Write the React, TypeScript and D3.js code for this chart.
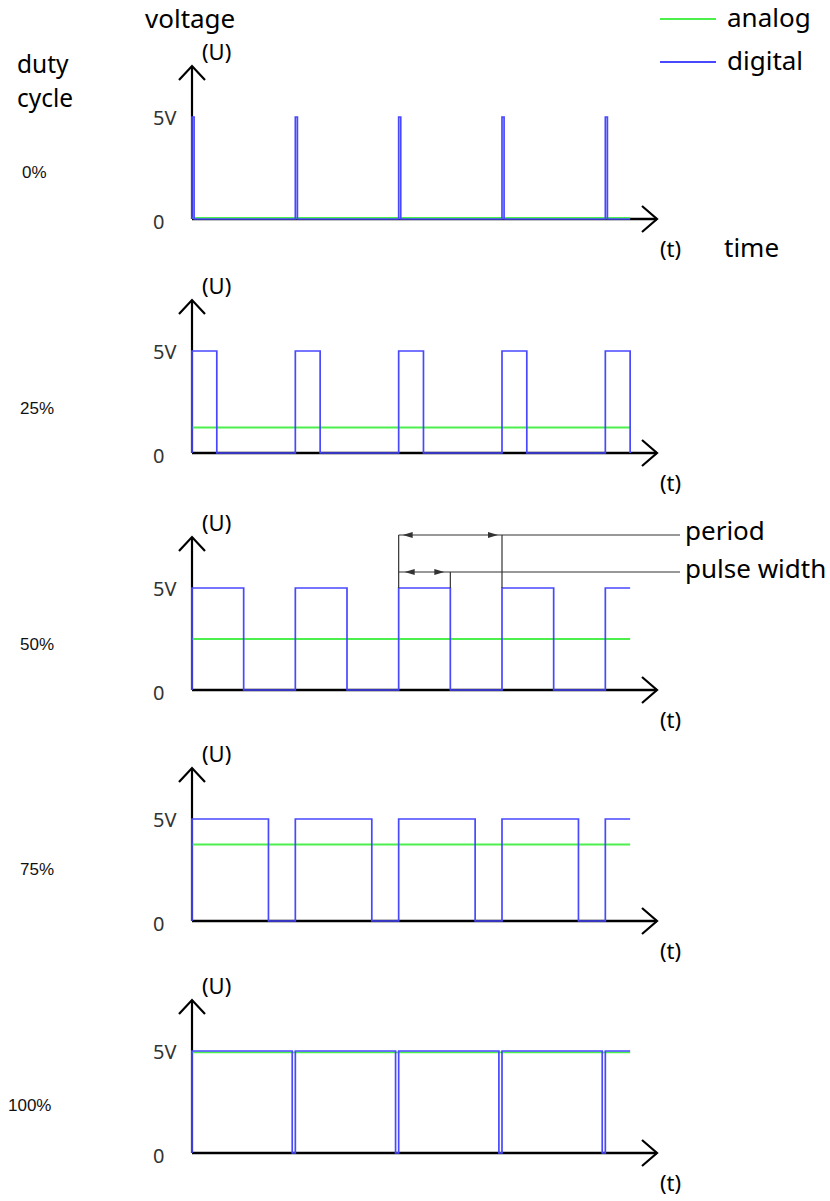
import React from "react";
import * as d3 from "d3";

// ---------- data ----------
const dutyLabels = ["0%", "25%", "50%", "75%", "100%"];
const pulseWidths = [0.02, 0.24, 0.5, 0.74, 0.97]; // fraction of one period
const analogLevels = [0.05, 1.25, 2.5, 3.75, 4.93]; // volts
const risingEdges = [0, 1, 2, 3, 4]; // in periods
const traceEnd = 4.24; // periods
const axisEnd = 4.5; // periods
const axisTop = 7.5; // volts
const highLevel = 5; // volts
const tickValues = [5, 0];
const tickLabels = ["5V", "0"];
const legendItems = ["analog", "digital"];
const annotationLabels = ["period", "pulse width"];

// ---------- layout ----------
const W = 830;
const H = 1201;
const baselines = [219, 453, 690, 921, 1153];
const pctOffsets = [-47, -45, -46, -52, -48];
const pctX = [22, 20, 20, 20, 8];
const COLORS = { analog: "#4cf04c", digital: "#4848ff", axis: "#000", note: "#333" };
const FONT = "'Noto Sans', 'DejaVu Sans', sans-serif";

const xScale = d3.scaleLinear().domain([0, axisEnd]).range([192, 657]);

function digitalPoints(w: number): [number, number][] {
  const pts: [number, number][] = [];
  risingEdges.forEach((r) => {
    pts.push([r, 0], [r, highLevel]);
    const f = r + w;
    if (f > traceEnd) {
      pts.push([traceEnd, highLevel]);
    } else {
      pts.push([f, highLevel], [f, 0]);
    }
  });
  const last = pts[pts.length - 1];
  if (last[0] < traceEnd) pts.push([traceEnd, 0]);
  return pts;
}

function Panel({ i }: { i: number }) {
  const base = baselines[i];
  const y = d3.scaleLinear().domain([0, axisTop]).range([base, base - 153]);
  const line = d3
    .line<[number, number]>()
    .x((d) => xScale(d[0]))
    .y((d) => y(d[1]));
  const x0 = xScale(0);
  const topY = y(axisTop);
  const xEnd = xScale(axisEnd);
  const digital = line(digitalPoints(pulseWidths[i])) || "";
  const analog = line([
    [0, analogLevels[i]],
    [traceEnd, analogLevels[i]],
  ]) || "";

  return (
    <g>
      {/* axes */}
      <line x1={x0} y1={base} x2={x0} y2={topY} stroke={COLORS.axis} strokeWidth={2.2} />
      <polyline
        points={`${x0 - 13},${topY + 14} ${x0},${topY} ${x0 + 13},${topY + 14}`}
        fill="none"
        stroke={COLORS.axis}
        strokeWidth={2.2}
      />
      <line x1={x0} y1={base} x2={xEnd} y2={base} stroke={COLORS.axis} strokeWidth={2.4} />
      <polyline
        points={`${xEnd - 15},${base - 13} ${xEnd},${base} ${xEnd - 15},${base + 13}`}
        fill="none"
        stroke={COLORS.axis}
        strokeWidth={2.2}
      />
      {/* tick labels */}
      {tickValues.map((v, k) => (
        <text
          key={k}
          x={153}
          y={y(v) + (v === 0 ? 2 : 0)}
          dominantBaseline="central"
          fontSize={20}
          fill="#333"
          fontFamily={FONT}
        >
          {tickLabels[k]}
        </text>
      ))}
      <text x={202} y={base - 168} dominantBaseline="central" fontSize={22} fill="#000" fontFamily={FONT}>
        (U)
      </text>
      <text x={660} y={base + 29} dominantBaseline="central" fontSize={22} fill="#000" fontFamily={FONT}>
        (t)
      </text>
      <text
        x={pctX[i]}
        y={base + pctOffsets[i]}
        dominantBaseline="central"
        fontSize={17}
        fill="#111"
        fontFamily="'Liberation Sans', Arial, sans-serif"
      >
        {dutyLabels[i]}
      </text>
      {/* traces */}
      <path d={analog} fill="none" stroke={COLORS.analog} strokeWidth={1.8} />
      <path d={digital} fill="none" stroke={COLORS.digital} strokeWidth={1.7} strokeLinejoin="miter" />
    </g>
  );
}

function Annotation() {
  const base = baselines[2];
  const y = d3.scaleLinear().domain([0, axisTop]).range([base, base - 153]);
  const xa = xScale(2);
  const xp = xScale(3);
  const xw = xScale(2 + pulseWidths[2]);
  const yP = base - 155;
  const yW = base - 118;
  const yTop = y(highLevel);
  const right = 680;
  const arrowL = (tx: number, ty: number) => `${tx},${ty} ${tx + 10},${ty - 3} ${tx + 10},${ty + 3}`;
  const arrowR = (tx: number, ty: number) => `${tx},${ty} ${tx - 10},${ty - 3} ${tx - 10},${ty + 3}`;
  return (
    <g stroke={COLORS.note} strokeWidth={1.2} fill="none">
      <line x1={xa} y1={yP} x2={xa} y2={yTop} />
      <line x1={xp} y1={yP} x2={xp} y2={yTop} />
      <line x1={xw} y1={yW} x2={xw} y2={yTop} />
      <line x1={xa} y1={yP} x2={right} y2={yP} />
      <line x1={xa} y1={yW} x2={right} y2={yW} />
      <polygon points={arrowL(xa + 4, yP)} fill={COLORS.note} stroke="none" />
      <polygon points={arrowR(xp - 4, yP)} fill={COLORS.note} stroke="none" />
      <polygon points={arrowL(xa + 6, yW)} fill={COLORS.note} stroke="none" />
      <polygon points={arrowR(xw - 6, yW)} fill={COLORS.note} stroke="none" />
      <text x={685} y={yP - 5} dominantBaseline="central" fontSize={26} fill="#000" stroke="none" fontFamily={FONT}>
        {annotationLabels[0]}
      </text>
      <text x={685} y={yW - 4} dominantBaseline="central" fontSize={26} fill="#000" stroke="none" fontFamily={FONT}>
        {annotationLabels[1]}
      </text>
    </g>
  );
}

export default function App() {
  return (
    <svg
      width={W}
      height={H}
      viewBox={`0 0 ${W} ${H}`}
      style={{ position: "absolute", left: 0, top: 0, background: "#fff" }}
    >
      <rect width={W} height={H} fill="#fff" />
      <text x={145} y={18} dominantBaseline="central" fontSize={26} fill="#000" fontFamily={FONT}>
        voltage
      </text>
      <text x={17} y={73} fontSize={24.5} fill="#000" fontFamily={FONT}>
        duty
      </text>
      <text x={17} y={107} fontSize={24.5} fill="#000" fontFamily={FONT}>
        cycle
      </text>
      <text x={724} y={247} dominantBaseline="central" fontSize={26} fill="#000" fontFamily={FONT}>
        time
      </text>
      {/* legend */}
      {legendItems.map((name, k) => (
        <g key={name}>
          <line
            x1={660}
            x2={716}
            y1={19 + k * 43}
            y2={19 + k * 43}
            stroke={k === 0 ? COLORS.analog : COLORS.digital}
            strokeWidth={1.8}
          />
          <text x={727} y={17 + k * 43} dominantBaseline="central" fontSize={26} fill="#000" fontFamily={FONT}>
            {name}
          </text>
        </g>
      ))}
      {dutyLabels.map((_, i) => (
        <Panel key={i} i={i} />
      ))}
      <Annotation />
    </svg>
  );
}
